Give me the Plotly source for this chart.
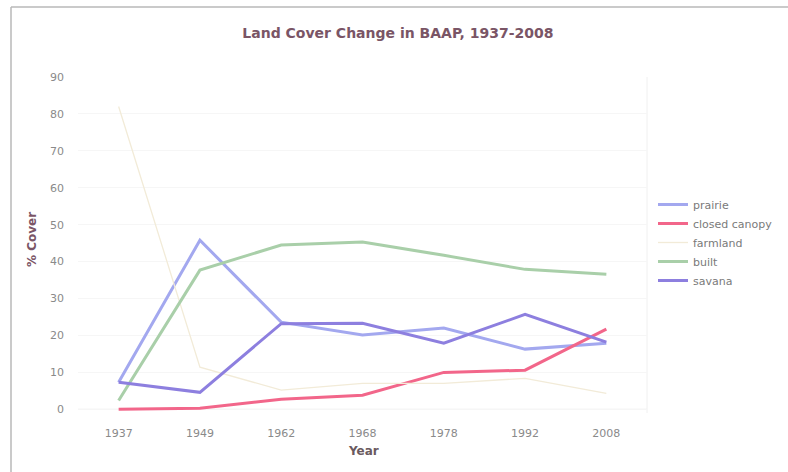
import plotly.graph_objects as go

years = ["1937", "1949", "1962", "1968", "1978", "1992", "2008"]
prairie = [7.3, 45.8, 23.6, 20.1, 22.0, 16.3, 17.9]
closed_canopy = [0.0, 0.3, 2.7, 3.8, 10.0, 10.6, 21.7]
farmland = [82.0, 11.4, 5.2, 7.0, 7.0, 8.4, 4.3]
built = [2.4, 37.7, 44.5, 45.3, 41.7, 37.9, 36.6]
savana = [7.3, 4.6, 23.2, 23.3, 17.9, 25.7, 18.2]

series = [
    ("prairie", prairie, "#a3a8ef", 3),
    ("closed canopy", closed_canopy, "#f2668a", 3),
    ("farmland", farmland, "#f2ebd8", 1.3),
    ("built", built, "#a9cfa9", 3),
    ("savana", savana, "#8d7fdf", 3),
]

FONT = "DejaVu Sans"
MAUVE = "#7a5566"

fig = go.Figure()
for name, vals, col, w in series:
    fig.add_trace(go.Scatter(x=years, y=vals, name=name, mode="lines",
                             line=dict(color=col, width=w)))

L, R, T, B = 78, 141, 77, 59
W, H = 788, 472
pw, ph = W - L - R, H - T - B

def px(xp):
    return (xp - L) / pw

def py(yp):
    return (H - B - yp) / ph

fig.update_layout(
    width=W, height=H,
    margin=dict(l=L, r=R, t=T, b=B, autoexpand=False),
    paper_bgcolor="white", plot_bgcolor="white",
    font=dict(family=FONT, size=11, color="#888888"),
    title=dict(text="<b>Land Cover Change in BAAP, 1937-2008</b>",
               x=0.505, xanchor="center", y=1 - 33 / H, yanchor="middle",
               yref="container", font=dict(family=FONT, size=14, color=MAUVE)),
    showlegend=True,
    legend=dict(x=px(653), y=py(190), xanchor="left", yanchor="top",
                font=dict(family=FONT, size=11, color="#7a7a7a"),
                bgcolor="rgba(0,0,0,0)", itemwidth=30, tracegroupgap=0),
    xaxis=dict(type="category", range=[-0.5, 6.5], showgrid=False,
               showline=False, ticks="", ticklabelstandoff=12,
               tickfont=dict(size=11, color="#8a8a8a"), zeroline=False),
    yaxis=dict(range=[-1, 90], tickvals=[0, 10, 20, 30, 40, 50, 60, 70, 80, 90],
               showgrid=True, gridcolor="#f6f6f6", zeroline=False,
               showline=False, ticks="", ticklabelstandoff=13,
               tickfont=dict(size=11, color="#8a8a8a")),
    annotations=[
        dict(text="<b>Year</b>", x=0.5, y=py(451), xref="paper", yref="paper",
             xanchor="center", yanchor="middle", showarrow=False,
             xshift=(363 - (L + pw / 2)),
             font=dict(family=FONT, size=12, color="#6a5a60")),
        dict(text="<b>% Cover</b>", x=px(32), y=py(240), xref="paper", yref="paper",
             xanchor="center", yanchor="middle", showarrow=False, textangle=-90,
             font=dict(family=FONT, size=12, color=MAUVE)),
    ],
    shapes=[
        dict(type="line", xref="paper", yref="y", x0=0, x1=1, y0=0, y1=0,
             layer="below", line=dict(color="#e4e4e4", width=1)),
        dict(type="line", xref="paper", yref="paper", x0=1, x1=1,
             y0=0, y1=1, layer="below", line=dict(color="#f0f0f0", width=1)),
        dict(type="line", xref="paper", yref="paper", x0=px(11), x1=px(11),
             y0=py(7), y1=py(472), line=dict(color="#b8b8b8", width=1.5)),
        dict(type="line", xref="paper", yref="paper", x0=px(11), x1=px(788),
             y0=py(7), y1=py(7), line=dict(color="#b8b8b8", width=1.5)),
    ],
)

fig.write_html("out.html")
